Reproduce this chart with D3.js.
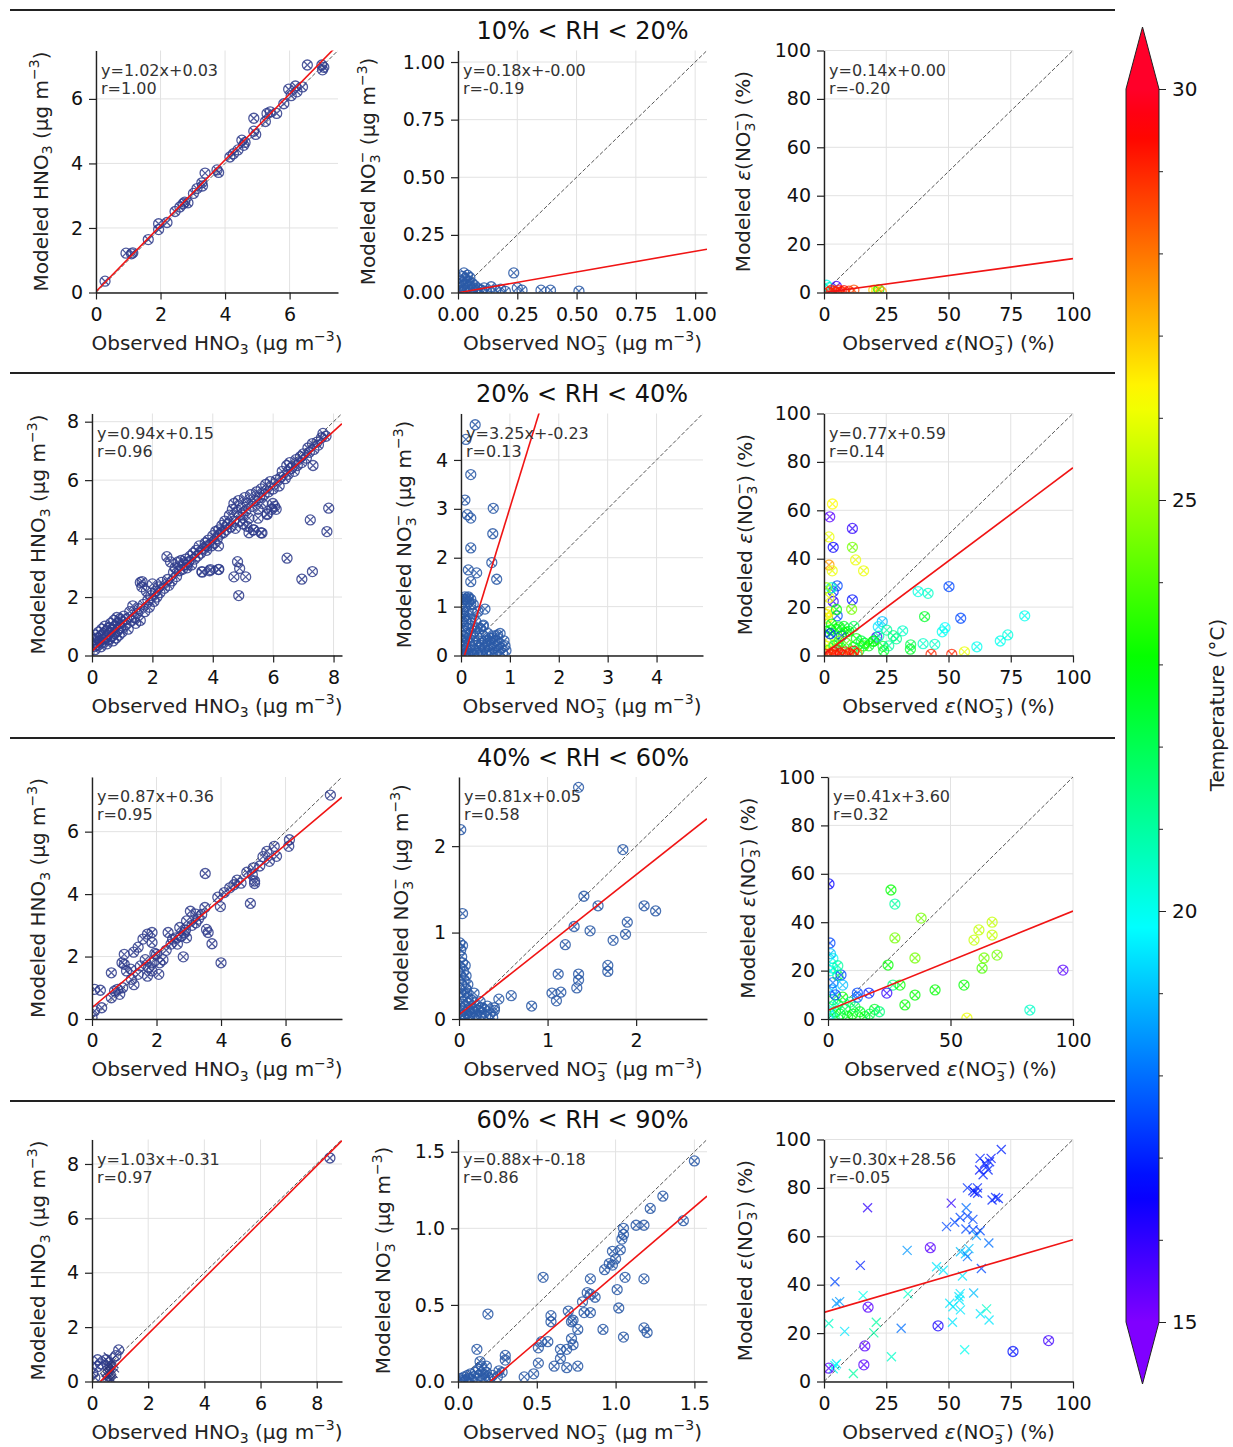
<!DOCTYPE html>
<html>
<head>
<meta charset="utf-8">
<script src="https://cdn.jsdelivr.net/npm/d3@7"></script>
<style>
body { margin: 0; background: #fff; }
text { font-family: "DejaVu Sans", sans-serif; }
</style>
</head>
<body>
<div id="fig"></div>
<script>
// ---------- data ----------
const rhTitles = ["10% < RH < 20%", "20% < RH < 40%", "40% < RH < 60%", "60% < RH < 90%"];

const axisMax = [[7.5, 1.05, 100], [8.28, 4.95, 100], [7.75, 2.8, 100], [8.9, 1.58, 100]];
const massTicks = [
  [[0, 2, 4, 6], [0, 0.25, 0.5, 0.75, 1]],
  [[0, 2, 4, 6, 8], [0, 1, 2, 3, 4]],
  [[0, 2, 4, 6], [0, 1, 2]],
  [[0, 2, 4, 6, 8], [0, 0.5, 1, 1.5]]
];
const massFmt = [["d", ".2f"], ["d", "d"], ["d", "d"], ["d", ".1f"]];
const epsTicksX = [[0, 25, 50, 75, 100], [0, 25, 50, 75, 100], [0, 50, 100], [0, 25, 50, 75, 100]];
const epsTicksY = [0, 20, 40, 60, 80, 100];

const fitSlope = [[1.02, 0.18, 0.14], [0.94, 3.25, 0.77], [0.87, 0.81, 0.41], [1.03, 0.88, 0.30]];
const fitIntercept = [[0.03, -0.001, 0.001], [0.15, -0.23, 0.59], [0.36, 0.05, 3.60], [-0.31, -0.18, 28.56]];
const fitR = [[1.00, -0.19, -0.20], [0.96, 0.13, 0.14], [0.95, 0.58, 0.32], [0.97, 0.86, -0.05]];

const tempTicks = [15, 20, 25, 30];

// 10-20 %
const hno3_rh10_20 = [[0.28,0.35],[0.93,1.22],[1.14,1.23],[1.1,1.2],[1.62,1.64],[1.94,2.13],[1.94,1.95],[2.2,2.17],[2.45,2.51],[2.6,2.65],[2.7,2.75],[2.75,2.8],[2.85,2.78],[3.02,3.07],[3.13,3.22],[3.28,3.4],[3.3,3.3],[3.38,3.7],[3.75,3.8],[3.8,3.72],[4.15,4.2],[4.26,4.3],[4.4,4.42],[4.52,4.72],[4.58,4.56],[4.62,4.65],[4.89,5.4],[4.89,5.0],[4.95,4.9],[5.25,5.3],[5.3,5.55],[5.4,5.6],[5.6,5.55],[5.82,5.85],[5.97,6.3],[6.05,6.1],[6.18,6.4],[6.23,6.22],[6.4,6.37],[6.55,7.05],[7.0,7.05],[7.06,6.98],[7.02,6.9]];
const no3_rh10_20 = [[0.01,0.02],[0.015,0.05],[0.02,0.07],[0.02,0.03],[0.025,0.085],[0.03,0.06],[0.03,0.01],[0.035,0.045],[0.04,0.075],[0.04,0.02],[0.045,0.05],[0.05,0.03],[0.05,0.065],[0.055,0.01],[0.06,0.04],[0.065,0.02],[0.07,0.03],[0.075,0.01],[0.08,0.02],[0.09,0.015],[0.1,0.01],[0.11,0.02],[0.12,0.005],[0.14,0.025],[0.16,0.01],[0.18,0.015],[0.2,0.005],[0.01,0.005],[0.005,0.04],[0.025,0.015],[0.235,0.085],[0.25,0.02],[0.27,0.01],[0.35,0.01],[0.39,0.01],[0.51,0.006]];
const eps_rh10_20 = [[1,3,20],[2,2,20.5],[5,2.5,15.8],[3,1,29],[4,0.5,29.2],[6,1,28.8],[7,0.3,29],[8,0.8,29.5],[10,0.6,29],[12,1,28.5],[2,0.2,29],[20,1,27],[21,0.5,26.5],[22,1.2,23],[23,0.3,27.5],[5,0.2,29]];

// 20-40 %
const hno3_rh20_40 = [[0.05,0.3],[0.08,0.55],[0.1,0.2],[0.12,0.7],[0.15,0.45],[0.18,0.6],[0.2,0.35],[0.22,0.8],[0.25,0.5],[0.28,0.65],[0.3,0.3],[0.32,0.9],[0.35,0.55],[0.38,0.75],[0.4,0.45],[0.42,1.0],[0.45,0.6],[0.48,0.85],[0.5,0.4],[0.52,0.7],[0.55,0.95],[0.58,0.55],[0.6,0.8],[0.62,1.1],[0.65,0.65],[0.68,0.9],[0.7,0.5],[0.72,1.2],[0.75,0.75],[0.78,1.0],[0.8,0.6],[0.82,1.3],[0.85,0.85],[0.88,1.1],[0.9,0.7],[0.92,1.25],[0.95,0.95],[0.98,1.15],[1.0,0.8],[1.05,1.35],[1.1,1.05],[1.15,1.25],[1.2,0.9],[1.25,1.5],[1.3,1.2],[1.35,1.7],[1.4,1.3],[1.45,1.1],[1.5,1.45],[1.55,1.6],
[1.6,2.5],[1.65,2.35],[1.6,1.2],[1.7,1.75],[1.75,1.5],[1.8,2.2],[1.85,1.9],[1.9,1.65],[1.95,2.05],[2.0,2.45],[2.05,1.85],[2.1,2.2],[2.15,2.0],[2.2,2.35],[2.25,2.15],[2.3,2.5],[2.4,2.3],[2.5,2.6],[2.55,2.4],[2.6,3.2],[2.65,2.55],[2.7,2.85],[2.75,3.0],[2.8,2.7],[2.85,3.2],[2.9,2.9],[2.95,3.25],[3.0,2.95],[3.05,3.1],[3.1,3.3],
[3.15,3.0],[3.2,3.2],[3.25,3.4],[3.3,3.1],[3.35,3.5],[3.4,3.3],[3.45,3.6],[3.5,3.4],[3.55,3.75],[3.6,3.5],[3.65,2.85],[3.7,3.65],[3.75,3.85],[3.8,3.6],[3.85,3.95],[3.9,2.9],[3.95,3.75],[4.0,4.1],[4.05,3.85],[4.1,4.25],[4.15,4.0],[4.2,4.3],
[4.2,2.95],[4.25,4.15],[4.3,4.45],[4.35,4.2],[4.4,4.6],[4.45,4.3],[4.5,4.5],[4.55,4.8],[4.6,4.4],[4.65,5.0],[4.7,4.6],[4.7,5.2],[4.75,4.35],[4.8,4.9],[4.85,5.3],[4.9,4.6],[4.95,5.05],[5.0,4.8],[5.0,4.5],[5.05,5.4],[5.1,4.95],[5.15,5.2],[5.2,4.7],[5.2,4.2],[5.25,5.5],[5.3,5.1],[5.35,4.3],[5.4,5.3],[5.45,5.6],[5.5,5.0],[5.5,4.7],[5.55,5.4],[5.6,4.2],[5.6,5.7],[5.65,5.2],[5.7,5.5],[5.75,5.85],[5.8,4.85],[5.85,5.6],[5.9,5.95],[5.95,5.0],[6.0,5.7],[6.05,5.1],[6.1,6.0],[6.2,5.8],
[6.25,6.1],[6.3,6.3],[6.4,6.05],[6.45,6.5],[6.5,6.2],[6.55,6.6],[6.6,6.4],[6.7,6.3],[6.75,6.7],[6.8,6.5],[6.9,6.8],[6.95,6.6],[7.0,6.9],[7.1,6.75],[7.15,7.1],[7.2,6.95],[7.3,7.25],[7.35,7.05],[7.45,7.3],[7.5,7.2],[7.6,7.45],[7.65,7.6],[7.75,7.5],
[7.32,6.5],[7.84,5.04],[7.23,4.64],[7.78,4.24],[6.46,3.33],[6.95,2.61],[7.3,2.87],[4.82,3.21],[4.89,2.98],[4.7,2.69],[5.09,2.69],[4.86,2.05],[3.64,2.87],[4.19,2.94],[3.92,2.94],[3.81,3.75],[4.19,3.75],[3.15,3.1],[2.48,3.38],[1.66,2.53],[5.35,4.3],[5.63,4.19],[5.13,4.42],[5.8,4.82],[6.1,5.0],[5.99,5.2]];
const no3_rh20_40 = [[0.02,0.05],[0.03,0.2],[0.04,0.4],[0.05,0.1],[0.05,0.6],[0.06,0.3],[0.07,0.8],[0.08,0.02],[0.08,1.0],[0.09,0.5],[0.1,0.15],[0.1,0.7],[0.11,1.15],[0.12,0.35],[0.13,0.9],[0.14,0.05],[0.15,0.55],[0.16,1.1],[0.17,0.25],[0.18,0.75],[0.2,0.45],[0.2,1.05],[0.21,0.1],[0.22,0.6],[0.24,0.3],[0.25,0.85],[0.26,0.02],[0.28,0.5],[0.3,0.2],[0.3,0.7],[0.32,0.4],[0.34,0.05],[0.35,0.9],[0.36,0.3],[0.38,0.15],[0.4,0.55],[0.42,0.25],[0.44,0.05],[0.45,0.4],[0.45,0.6],[0.48,0.15],[0.5,0.3],[0.52,0.05],[0.55,0.45],[0.56,0.2],[0.58,0.1],[0.6,0.35],[0.62,0.05],[0.64,0.25],[0.66,0.15],[0.68,0.4],[0.7,0.05],[0.72,0.3],[0.74,0.2],[0.76,0.1],[0.78,0.25],[0.8,0.45],[0.82,0.15],[0.85,0.05],[0.88,0.3],[0.9,0.2],[0.92,0.1],[0.05,0.9],[0.03,1.1],[0.06,0.75],[0.15,1.2],[0.12,0.45],[0.01,0.3],[0.02,0.7],[0.04,0.95],[0.18,0.02],[0.25,0.12],[0.33,0.55],[0.4,0.08],[0.55,0.3],[0.65,0.35],[0.75,0.42],[0.46,0.62],[0.08,0.25],[0.1,0.05],
[0.29,4.72],[0.1,4.42],[0.08,3.18],[0.13,2.88],[0.2,2.81],[0.2,3.7],[0.66,3.01],[0.65,2.49],[0.2,2.2],[0.63,1.9],[0.15,1.75],[0.32,1.69],[0.2,1.51],[0.73,1.56],[0.49,0.95],[0.08,1.2],[0.14,1.18],[0.2,1.15],[0.25,1.05],[0.05,1.15]];
const eps_rh20_40 = [[3.4,62.6,26.3],[2.3,57.3,15.5],[11.4,52.5,16],[2.0,49,26],[3.7,44.7,16.5],[11.4,44.7,24.5],[12.7,39.5,26],[15.9,35,26],[2.0,37.4,27.5],[3.3,35,26],[5.3,28.8,17.5],[3.7,26.4,17],[3.7,22.3,16],[11.4,23,16.8],[11.1,19.1,24.5],[5.3,16.4,17.5],[37.8,26.4,20.2],[41.8,25.7,20.5],[50.2,28.5,17.5],[40.4,16.1,22.5],[54.9,15.4,17.5],[80.6,16.4,20],[23.4,14,19],[21.8,11.9,19.5],[25.2,10.5,21],[31.6,10.2,20.5],[27.8,8.2,21.5],[29.1,6.9,21.2],[21.2,7.6,16],[48.6,11.5,19.8],[47.5,9.8,20],[34.8,4.4,22],[34.7,2.6,22.5],[39.8,4.9,20.5],[44.5,4.6,20.5],[43,0.5,29],[51.3,0.5,29],[56.4,1.5,26],[61.4,3.6,20],[70.8,6,20],[73.8,8.5,20.2],[23.7,3.8,22.5],[19.7,5.8,22.5],[16.3,5.1,23],[13,7,23],[8.9,9.7,23],[6.2,11.8,23],
[2,18,26],[1.4,15.4,26],[2.7,10.6,22.5],[4,8,22],[1.4,3.8,26],[5.5,5,22.5],[7,8.1,17],[11.8,3.4,22.5],
[1,10,23],[2,5,26],[3,13,23],[1.5,2,24],[4,4,22],[5,11,23],[6,6,24.5],[7,3,22],[8,12,22.5],[9,5,24],[2,24,26],[1,17,26.5],[3,28,20.5],[1,28,25],[5,19,23],[2.5,9,17],[10,10,23],[15,6,22],[18,4,22.5],[20,6,23],[22,8,21],[26,4,21],[24,2,22.5],[14,2,22],[16,4,23.5],[12,12,22],
[2.7,0.8,29],[4,1.5,29.3],[5.3,2,29],[6.6,0.8,29.5],[8.6,1.5,29],[9.9,0.8,29.2],[13.3,0.8,28],[3.5,0.3,29],[7.5,0.2,29],[11,0.3,28.5],[1,0.5,29],[12,1.8,29.5]];

// 40-60 %
const hno3_rh40_60 = [[7.39,7.17],[3.51,4.66],[4.91,3.7],[4.0,1.8],[3.72,2.41],[3.6,2.77],[3.55,2.87],[2.83,1.99],[5.04,4.42],[5.04,4.34],[5.0,4.84],[3.98,3.6],[6.12,5.74],[6.1,5.53],[5.65,5.53],[5.72,5.21],[5.42,5.37],[5.5,5.05],[4.97,4.62],[4.62,4.35],[4.27,4.2],[4.1,4.05],[3.9,3.9],[3.5,3.57],[3.22,3.36],[3.05,3.45],[2.93,3.14],[2.72,2.93],[2.86,2.77],[2.36,2.77],[2.5,2.56],[1.86,2.77],[1.72,2.72],[1.58,2.56],[1.86,2.45],[2.0,2.07],[1.86,1.8],[1.43,2.3],[1.29,2.14],[1.0,2.07],[0.93,1.8],[1.07,1.54],[0.6,1.48],[1.72,1.37],[1.43,1.43],[1.22,1.27],[0.79,0.95],[0.6,0.68],[0.86,0.79],[0.3,0.36],[0.08,0.95],[0.26,0.92],[0.08,0.26],[0.0,0.05],[2.2,1.9],[2.1,1.8],[1.86,1.54],[2.07,1.43],[2.65,2.4],[2.93,2.6],[3.22,3.08],[1.0,1.75],[1.2,1.6],[1.5,1.7],[1.65,1.9],[2.3,2.2],[2.45,2.4],[2.6,2.6],[2.75,2.65],[2.9,2.85],[3.1,3.0],[3.3,3.2],[3.4,3.35],[1.75,1.65],[1.95,2.1],[0.7,0.9],[0.95,1.0],[1.3,1.1],[4.4,4.3],[4.5,4.45],[4.8,4.7],[5.2,4.9],[5.3,5.2]];
const no3_rh40_60 = [[1.35,2.68],[0.02,2.19],[0.04,1.22],[1.85,1.96],[1.41,1.42],[1.3,1.07],[1.48,1.02],[1.57,1.31],[2.22,1.25],[2.09,1.31],[1.9,1.12],[1.88,0.98],[1.74,0.91],[1.2,0.86],[1.12,0.52],[1.35,0.52],[1.35,0.45],[1.33,0.36],[1.68,0.62],[1.68,0.55],[1.05,0.3],[1.15,0.31],[1.1,0.21],[0.82,0.15],[0.59,0.27],[0.45,0.23],[0.4,0.13],[0.25,0.13],
[0.01,0.88],[0.02,0.8],[0.03,0.72],[0.04,0.65],[0.01,0.6],[0.05,0.55],[0.02,0.5],[0.06,0.45],[0.03,0.4],[0.08,0.35],[0.02,0.3],[0.05,0.28],[0.1,0.25],[0.04,0.2],[0.12,0.18],[0.07,0.15],[0.15,0.12],[0.03,0.1],[0.18,0.08],[0.09,0.06],[0.2,0.05],[0.12,0.03],[0.25,0.04],[0.16,0.02],[0.3,0.03],[0.22,0.1],[0.28,0.12],[0.35,0.06],[0.38,0.02],[0.06,0.02],[0.02,0.02],[0.14,0.22],[0.19,0.15],[0.24,0.2],[0.1,0.4],[0.07,0.62],[0.04,0.85],[0.09,0.3],[0.17,0.3],[0.32,0.15],[0.26,0.08],[0.11,0.1],[0.05,0.05],[0.01,0.15],[0.08,0.5],[0.13,0.08],[0.4,0.1]];
const eps_rh40_60 = [[0.4,55.8,16.5],[0.8,31.4,17.5],[2,25,20],[2,21,20],[4,18,22],[5.3,18.2,17.5],[12,10.7,17.5],[25.7,53.3,23],[27.3,47.5,21],[38,41.7,24.5],[27.3,33.5,24.5],[24.5,22.3,23],[26.5,14,21.5],[35.5,25.2,24.5],[29.4,14,23],[35.5,9.9,23],[43.7,12,23],[31.4,5.8,23],[24,10.7,16],[16.7,10.7,17],[61.6,36.8,25.5],[59.6,32.6,25.5],[67,40,25.5],[67,34.7,25.5],[69,26.4,24.5],[63.7,25.2,24.5],[62.9,21,24],[55.5,14,23],[56.7,0.4,26],[82.4,3.7,20.5],[95.9,20.2,15.5],
[1,5,20],[2,8,22],[1.5,12,19],[3,3,23],[4,6,21],[2,15,18],[5,2,22.5],[6,9,23],[7,4,22],[8,1,22.5],[1,20,20],[3,10,17.5],[9,7,21.5],[10,2,23],[11,5,22],[13,3,22.5],[15,1,23],[17,2,22],[19,4,22.5],[21,3,21.5],[12,9,18],[0.5,2,19.5],[2.5,0.5,21],[6,14,19],[4,22,21],[1,27,19]];

// 60-90 %  (o = circled cross, x = cross)
const hno3_rh60_90_o = [[8.47,8.22],[0.95,1.16],[0.2,0.8],[0.21,0.55],[0.03,0.32],[0.5,0.8],[0.85,0.95],[0.1,0.15],[0.3,0.65]];
const hno3_rh60_90_x = [[0.5,0.05],[0.55,0.2],[0.6,0.4],[0.65,0.6],[0.7,0.8],[0.6,0.7],[0.55,0.55],[0.75,0.3],[0.7,0.1],[0.8,0.5],[0.62,0.25],[0.68,0.45],[0.52,0.35],[0.78,0.65],[0.58,0.9],[0.72,0.02],[0.64,0.05],[0.45,0.15],[0.6,0.6],[0.66,0.3]];
const no3_rh60_90 = [[1.5,1.44],[1.3,1.21],[1.22,1.13],[1.43,1.05],[1.18,1.02],[1.13,1.02],[1.05,1.0],[1.05,0.96],[1.04,0.93],[1.03,0.86],[0.98,0.85],[1.0,0.8],[0.93,0.73],[0.98,0.76],[0.96,0.77],[1.06,0.68],[1.18,0.67],[1.01,0.6],[1.02,0.48],[0.84,0.67],[0.82,0.58],[0.84,0.57],[0.87,0.55],[0.79,0.52],[0.8,0.45],[0.84,0.45],[0.7,0.46],[0.73,0.4],[0.76,0.34],[0.72,0.28],[0.73,0.24],[0.72,0.39],[0.69,0.21],[0.65,0.21],[0.65,0.15],[0.61,0.1],[0.69,0.09],[0.76,0.1],[0.54,0.68],[0.59,0.43],[0.59,0.39],[0.57,0.26],[0.53,0.26],[0.51,0.22],[0.51,0.12],[0.48,0.05],[0.42,0.03],[0.92,0.34],[1.05,0.29],[1.18,0.35],[1.2,0.32],
[0.01,0.01],[0.02,0.02],[0.03,0.005],[0.04,0.03],[0.05,0.01],[0.06,0.04],[0.07,0.02],[0.08,0.05],[0.09,0.01],[0.1,0.03],[0.11,0.06],[0.12,0.02],[0.13,0.08],[0.14,0.04],[0.15,0.1],[0.16,0.05],[0.17,0.02],[0.18,0.06],[0.19,0.03],[0.12,0.21],[0.14,0.13],[0.18,0.1],[0.3,0.17],[0.3,0.14],[0.26,0.07],[0.2,0.02],[0.25,0.03],[0.19,0.44],[0.22,0.04],[0.28,0.06]];
const eps_rh60_90_o = [[42.7,55.3,15.5],[17.7,30.7,15.5],[45.8,23,16.3],[16.4,14.7,15.5],[16,6.9,15.5],[1.9,5.5,15.5],[75.9,12.4,16.8],[90.2,16.9,15.8]];
const eps_rh60_90_x = [[71.2,95.9,17],[62.7,92.2,17],[64.5,90.2,17],[66.5,90.8,17],[67.1,92.2,16.8],[62.5,87.4,16.8],[63.9,85.4,17],[65.9,87.4,17],[65.3,88.8,17],[61.6,80,17],[59.8,78.8,17],[60.5,78.2,16.8],[61.7,77.8,17],[57.6,80,17.2],[67.5,75,17],[68.9,76,17],[70,75.6,17],[17.5,71.8,16],[51.1,73.7,16],[57.1,71.8,18],[49.2,64,17.5],[52.5,65.8,17.5],[54.7,67.8,17.5],[57.6,68.4,17.5],[57,63,17.5],[59.8,67,17.5],[59.9,62.7,17.5],[61.2,60.3,18.5],[62.7,62.3,17.5],[66.2,57.2,18],[54.8,53.6,19],[56.8,52.8,19],[58.2,54.9,19],[57.6,51.6,18],[63.2,46.7,17.5],[45.2,47.4,19.5],[47.9,46,19.5],[55.6,43.6,19.5],[33.4,54.2,18.5],[14.6,48,17],[4.4,41.2,17.5],[5,32.3,18.5],[6.3,33,18.5],[15.7,35.5,20],[33.7,36.2,20.5],[50.5,32.3,19.5],[51.8,30.9,19.5],[54.4,33.6,19.5],[54.2,35,19.5],[54.7,36.3,19.5],[60.1,36.6,19],[51.6,24.5,19.5],[54.8,29.6,19.5],[62.8,28,19.5],[65.3,30,20.5],[66.3,25.4,19.5],[1.9,24,20.5],[8.3,20.7,19.5],[21,24.5,21],[20,20.1,21],[27.1,10.2,20.5],[11.8,3.3,21],[5,7.3,19.5],[3.7,5.3,20],[4.4,6.6,20],[56.5,13.1,20],[31,22,18]];

// ---------- layout ----------
const W = 1233, H = 1447;
const rowTop = [50.5, 413.5, 777, 1139.5];
const panelH = 242;
const colBox = [
  [[96, 338], [458, 707], [824, 1073]],
  [[92, 342], [461, 703], [824, 1073]],
  [[92, 342], [459, 707], [828, 1073]],
  [[92, 342], [458, 707], [824, 1073]]
];
const ylabX = [[47.5, 375, 750], [45, 411, 752], [45, 408, 755], [45, 390, 752]];
const sepY = [10, 373, 738, 1101];
const titleY = [39, 402, 766, 1128];

const FS_TICK = 19, FS_LAB = 20, FS_ANN = 16, FS_TITLE = 24;
const colHNO3 = "#303d8c", colNO3 = "#2c5ba7";

const svg = d3.select("#fig").append("svg").attr("width", W).attr("height", H);

// gist_rainbow, reversed and truncated the way the colour bar shows it
const gistStops = [[0, [1, 0, 0.16]], [0.03, [1, 0, 0]], [0.215, [1, 1, 0]], [0.4, [0, 1, 0]],
  [0.586, [0, 1, 1]], [0.77, [0, 0, 1]], [0.954, [1, 0, 1]], [1, [1, 0, 0.75]]];
function tempColor(T) {
  const p = Math.max(0, Math.min(0.862, (30 - T) / 15 * 0.862));
  let i = 0;
  while (i < gistStops.length - 2 && p > gistStops[i + 1][0]) i++;
  const [p0, c0] = gistStops[i], [p1, c1] = gistStops[i + 1];
  const f = (p - p0) / (p1 - p0);
  const c = c0.map((v, k) => Math.round(255 * (v + (c1[k] - v) * f)));
  return `rgb(${c[0]},${c[1]},${c[2]})`;
}

// text with sub / superscripts
function rich(t, parts, fs) {
  const sm = fs * 0.7;
  let shift = 0, pendingDx = 0;
  const put = (s, target, size) => {
    const ts = t.append("tspan").text(s).attr("dy", target - shift).attr("font-size", size);
    if (pendingDx) { ts.attr("dx", pendingDx); pendingDx = 0; }
    shift = target;
    return ts;
  };
  parts.forEach(([s, k]) => {
    if (k === "sub") put(s, 0.24 * fs, sm);
    else if (k === "sup") put(s, -0.42 * fs, sm);
    else if (k === "subsup") {
      put("−", -0.42 * fs, sm);
      put(s, 0.26 * fs, sm).attr("dx", -0.838 * sm);
      pendingDx = (0.838 - 0.636) * sm;
    } else if (k === "it") put(s, 0, fs).attr("font-style", "italic");
    else put(s, 0, fs);
  });
}

const lbl = {
  hno3: w => [[w + " HNO"], ["3", "sub"], [" (μg m"], ["−3", "sup"], [")"]],
  no3: w => [[w + " NO"], ["3", "subsup"], [" (μg m"], ["−3", "sup"], [")"]],
  eps: w => [[w + " "], ["ε", "it"], ["(NO"], ["3", "subsup"], [") (%)"]]
};

const signed = v => (v < 0 ? "-" : "") + Math.abs(v).toFixed(2);

let clipId = 0;
function drawPanel(r, c, sets, kind) {
  const [x0, x1] = colBox[r][c];
  const y0 = rowTop[r], y1 = rowTop[r] + panelH;
  const m = axisMax[r][c];
  const x = d3.scaleLinear().domain([0, m]).range([x0, x1]);
  const y = d3.scaleLinear().domain([0, m]).range([y1, y0]);
  const tx = c < 2 ? massTicks[r][c] : epsTicksX[r];
  const ty = c < 2 ? massTicks[r][c] : epsTicksY;
  const fmt = d3.format(c < 2 ? massFmt[r][c] : "d");

  const g = svg.append("g");
  const id = "clip" + (clipId++);
  svg.append("clipPath").attr("id", id).append("rect")
    .attr("x", x0).attr("y", y0).attr("width", x1 - x0).attr("height", y1 - y0);

  // grid
  g.append("g").selectAll("line").data(tx).join("line")
    .attr("x1", d => x(d)).attr("x2", d => x(d)).attr("y1", y0).attr("y2", y1)
    .attr("stroke", "#e2e2e2").attr("stroke-width", 1);
  g.append("g").selectAll("line").data(ty).join("line")
    .attr("y1", d => y(d)).attr("y2", d => y(d)).attr("x1", x0).attr("x2", x1)
    .attr("stroke", "#e2e2e2").attr("stroke-width", 1);

  const plot = g.append("g").attr("clip-path", `url(#${id})`);
  // 1:1 line
  plot.append("line").attr("x1", x(0)).attr("y1", y(0)).attr("x2", x(m)).attr("y2", y(m))
    .attr("stroke", "#555").attr("stroke-width", 1).attr("stroke-dasharray", "4,2");

  // markers
  sets.forEach(s => {
    const pts = plot.append("g").selectAll("g").data(s.data).join("g")
      .attr("transform", d => `translate(${x(d[0])},${y(d[1])})`)
      .attr("fill", "none")
      .attr("stroke", d => d.length > 2 ? tempColor(d[2]) : s.color)
      .attr("stroke-opacity", kind === "eps" ? 0.75 : 0.85)
      .attr("stroke-width", 1.3);
    if (s.shape === "o") {
      pts.append("circle").attr("r", 5);
      pts.append("path").attr("d", "M-3.5,-3.5L3.5,3.5M-3.5,3.5L3.5,-3.5");
    } else {
      pts.append("path").attr("d", "M-4.5,-4.5L4.5,4.5M-4.5,4.5L4.5,-4.5");
    }
  });

  // regression line
  const sl = fitSlope[r][c], ic = fitIntercept[r][c];
  plot.append("line").attr("x1", x(0)).attr("y1", y(ic)).attr("x2", x(m)).attr("y2", y(sl * m + ic))
    .attr("stroke", "#f01414").attr("stroke-width", 1.6);

  // axes
  const ax = g.append("g").attr("transform", `translate(0,${y1})`)
    .call(d3.axisBottom(x).tickValues(tx).tickFormat(fmt).tickSize(7).tickSizeOuter(0).tickPadding(8));
  const ay = g.append("g").attr("transform", `translate(${x0},0)`)
    .call(d3.axisLeft(y).tickValues(ty).tickFormat(fmt).tickSize(7).tickSizeOuter(0).tickPadding(6));
  [ax, ay].forEach(a => {
    a.selectAll("text").attr("font-size", FS_TICK).attr("fill", "#111").attr("font-family", "DejaVu Sans");
    a.selectAll("line").attr("stroke", "#222").attr("stroke-width", 1.2);
    a.select(".domain").attr("stroke", "#222").attr("stroke-width", 1.4);
  });

  // annotation
  const ann = g.append("g").attr("fill", "#333").attr("font-size", FS_ANN);
  ann.append("text").attr("x", x0 + 5).attr("y", y0 + 25)
    .text(`y=${sl.toFixed(2)}x+${signed(ic)}`);
  ann.append("text").attr("x", x0 + 5).attr("y", y0 + 43)
    .text(`r=${fitR[r][c].toFixed(2)}`);

  // axis labels
  const xl = g.append("text").attr("x", (x0 + x1) / 2).attr("y", y1 + 57)
    .attr("text-anchor", "middle").attr("fill", "#222");
  rich(xl, lbl[kind]("Observed"), FS_LAB);
  const yl = g.append("text")
    .attr("transform", `translate(${ylabX[r][c]},${(y0 + y1) / 2}) rotate(-90)`)
    .attr("text-anchor", "middle").attr("fill", "#222");
  yl.append("tspan").attr("dy", "0.35em").text("");
  rich(yl, lbl[kind]("Modeled"), FS_LAB);
}

// rows
const rowSets = [
  [[{ data: hno3_rh10_20, shape: "o", color: colHNO3 }], [{ data: no3_rh10_20, shape: "o", color: colNO3 }], [{ data: eps_rh10_20, shape: "o" }]],
  [[{ data: hno3_rh20_40, shape: "o", color: colHNO3 }], [{ data: no3_rh20_40, shape: "o", color: colNO3 }], [{ data: eps_rh20_40, shape: "o" }]],
  [[{ data: hno3_rh40_60, shape: "o", color: colHNO3 }], [{ data: no3_rh40_60, shape: "o", color: colNO3 }], [{ data: eps_rh40_60, shape: "o" }]],
  [[{ data: hno3_rh60_90_x, shape: "x", color: "#2a3478" }, { data: hno3_rh60_90_o, shape: "o", color: colHNO3 }],
   [{ data: no3_rh60_90, shape: "o", color: colNO3 }],
   [{ data: eps_rh60_90_x, shape: "x" }, { data: eps_rh60_90_o, shape: "o" }]]
];
const kinds = ["hno3", "no3", "eps"];

rhTitles.forEach((t, r) => {
  svg.append("line").attr("x1", 10).attr("x2", 1115).attr("y1", sepY[r]).attr("y2", sepY[r])
    .attr("stroke", "#222").attr("stroke-width", 2);
  const [a, b] = colBox[r][1];
  svg.append("text").attr("x", (a + b) / 2).attr("y", titleY[r]).attr("text-anchor", "middle")
    .attr("font-size", FS_TITLE).attr("fill", "#111").text(t);
  kinds.forEach((k, c) => drawPanel(r, c, rowSets[r][c], k));
});

// ---------- colour bar ----------
const cbX0 = 1126, cbX1 = 1159, cbExt = 62;
const cbY = d3.scaleLinear().domain([15, 30]).range([1322, 89]);
const grad = svg.append("defs").append("linearGradient").attr("id", "tgrad")
  .attr("x1", 0).attr("y1", 0).attr("x2", 0).attr("y2", 1);
d3.range(0, 1.0001, 0.02).forEach(s => {
  grad.append("stop").attr("offset", s).attr("stop-color", tempColor(30 - 15 * s));
});
const cbTop = cbY(30), cbBot = cbY(15), cbMid = (cbX0 + cbX1) / 2;
svg.append("rect").attr("x", cbX0).attr("y", cbTop).attr("width", cbX1 - cbX0).attr("height", cbBot - cbTop)
  .attr("fill", "url(#tgrad)");
svg.append("path").attr("d", `M${cbX0},${cbTop}L${cbMid},${cbTop - cbExt}L${cbX1},${cbTop}Z`).attr("fill", tempColor(30.5));
svg.append("path").attr("d", `M${cbX0},${cbBot}L${cbMid},${cbBot + cbExt}L${cbX1},${cbBot}Z`).attr("fill", tempColor(14.5));
svg.append("path")
  .attr("d", `M${cbX0},${cbTop}L${cbMid},${cbTop - cbExt}L${cbX1},${cbTop}L${cbX1},${cbBot}L${cbMid},${cbBot + cbExt}L${cbX0},${cbBot}Z`)
  .attr("fill", "none").attr("stroke", "#222").attr("stroke-width", 1);

const cbMinor = svg.append("g").attr("transform", `translate(${cbX1},0)`)
  .call(d3.axisRight(cbY).tickValues(d3.range(15, 31).filter(v => !tempTicks.includes(v))).tickSize(4).tickFormat(""));
const cbMajor = svg.append("g").attr("transform", `translate(${cbX1},0)`)
  .call(d3.axisRight(cbY).tickValues(tempTicks).tickSize(7).tickPadding(6).tickFormat(d3.format("d")));
[cbMinor, cbMajor].forEach(a => {
  a.select(".domain").remove();
  a.selectAll("line").attr("stroke", "#222").attr("stroke-width", 1);
  a.selectAll("text").attr("font-size", FS_LAB).attr("fill", "#111").attr("font-family", "DejaVu Sans");
});
svg.append("text").attr("transform", `translate(1217,705) rotate(-90)`)
  .attr("text-anchor", "middle").attr("dy", "0.35em").attr("font-size", FS_LAB).attr("fill", "#222")
  .text("Temperature (°C)");
</script>
</body>
</html>
